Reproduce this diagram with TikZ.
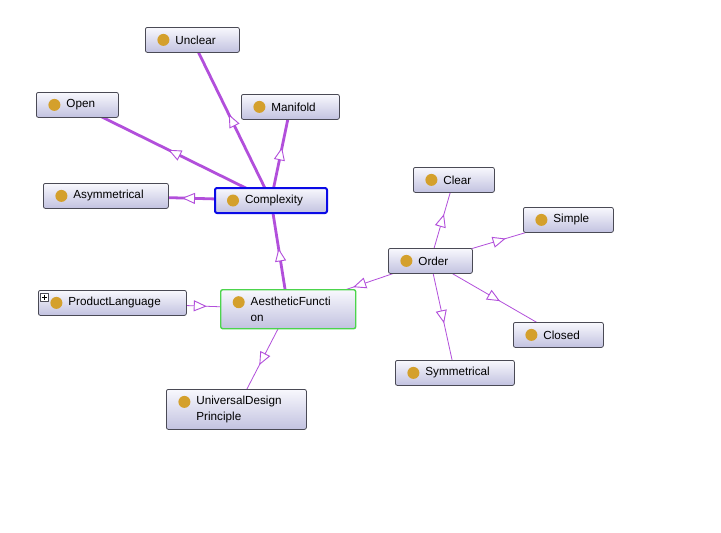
\documentclass[tikz,border=0pt]{standalone}
\usepackage{fontspec}
\setmainfont{Liberation Sans}
\usetikzlibrary{arrows.meta,decorations.markings,backgrounds}
\lefthyphenmin=62
\definecolor{edgec}{HTML}{B24FDB}
\definecolor{dotc}{HTML}{D4A02C}
\definecolor{bordc}{HTML}{4A4A55}
\definecolor{topc}{HTML}{F8F8FD}
\definecolor{botc}{HTML}{C2C2E0}
\definecolor{curc}{HTML}{0A0AE6}
\definecolor{selc}{HTML}{4CD44C}
\begin{document}
\begin{tikzpicture}[x=1pt, y=-1pt, line join=round,
	font=\fontsize{11.7}{16}\selectfont,
	cls/.style={rectangle, rounded corners=2pt, draw=bordc, line width=0.8pt,
		top color=topc, bottom color=botc, anchor=north west,
		inner xsep=30pt, inner ysep=0pt, minimum height=25pt,
		text width=#1pt, align=left,
		path picture={\fill[dotc] ([xshift=18pt,yshift=-12.5pt]path picture bounding box.north west) circle (6pt);}},
	cur/.style={draw=curc, line width=2pt},
	sel/.style={draw=selc, line width=1.4pt},
	sub/.style={draw=edgec, postaction={decorate},
		decoration={markings, mark=at position 0.5 with {\arrow[xshift=6.5pt]{Triangle[open, fill=white, length=13pt, width=11pt, line width=0.9pt]}}}}]
	% classes round Complexity
	\node[cls=34] (unc) at (145,27) {Unclear};
	\node[cls=22] (opn) at (36,92) {Open};
	\node[cls=38] (man) at (241,94) {Manifold};
	\node[cls=65] (asy) at (43,183) {Asymmetrical};
	\node[cls=52, cur] (cmp) at (214,187) {Complexity};
	% centre
	\node[cls=88] (prl) at (38,290) {ProductLanguage};
	\node[cls=75, sel, minimum height=39pt] (aes) at (220,289) {AestheticFuncti\\on};
	\node[cls=80, minimum height=40pt] (udp) at (166,389) {UniversalDesign\\Principle};
	% classes round Order
	\node[cls=24] (ord) at (388,248) {Order};
	\node[cls=21] (clr) at (413,167) {Clear};
	\node[cls=30] (smp) at (523,207) {Simple};
	\node[cls=30] (cls) at (513,322) {Closed};
	\node[cls=59] (sym) at (395,360) {Symmetrical};
	% expand box
	\draw[bordc, fill=white, line width=0.5pt] ([shift={(2,3)}]prl.north west) rectangle +(8,8);
	\draw[line width=0.7pt] ([shift={(6,4.5)}]prl.north west) -- +(0,5) ([shift={(3.5,7)}]prl.north west) -- +(5,0);
	\begin{pgfonlayer}{background}
		\fill[white] (0,0) rectangle (721,533);
		\foreach \a/\b in {cmp/unc, cmp/opn, cmp/man, cmp/asy, aes/cmp}
			\draw[sub, line width=2.8pt] (\a.center) -- (\b.center);
		\foreach \a/\b in {prl/aes, aes/udp, ord/aes, ord/clr, ord/smp, ord/cls, ord/sym}
			\draw[sub, line width=0.8pt] (\a.center) -- (\b.center);
	\end{pgfonlayer}
	\useasboundingbox (0,0) rectangle (721,533);
\end{tikzpicture}
\end{document}
